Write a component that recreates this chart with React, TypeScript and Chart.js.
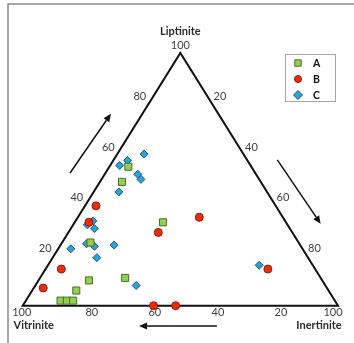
import { useEffect, useRef } from 'react';
import { Chart, registerables } from 'chart.js';
import { drawPoint } from 'chart.js/helpers';

Chart.register(...registerables);

// ---- data: maceral composition (%) ----
const categories = ['A', 'B', 'C'];
const axisNames = ['Vitrinite', 'Inertinite', 'Liptinite'];
const tickValues = [20, 40, 60, 80];

const vitriniteA = [39, 44, 39, 66, 62, 74, 80, 87, 85, 83];
const inertiniteA = [6, 7, 28, 9, 27, 16, 14, 11, 13, 15];
const liptiniteA = [55, 49, 33, 25, 11, 10, 6, 2, 2, 2];

const vitriniteB = [57, 42.5, 26.5, 62.5, 80.5, 90, 58.5, 51.5, 15];
const inertiniteB = [3.5, 28.5, 38.5, 4.5, 5, 3, 41.5, 48.5, 70.5];
const liptiniteB = [39.5, 29, 35, 33, 14.5, 7, 0, 0, 14.5];

const vitriniteC = [31.5, 38, 41.5, 37.5, 37.5, 47, 61, 63.5, 62, 67.5, 65.5, 59, 73.5, 67, 60, 17];
const inertiniteC = [8.5, 4.5, 3, 10.5, 12.5, 8, 5.5, 4.5, 7.5, 8, 11, 17, 4, 14, 32, 67];
const liptiniteC = [60, 57.5, 55.5, 52, 50, 45, 33.5, 32, 30.5, 24.5, 23.5, 24, 22.5, 19, 8, 16];

// ternary -> cartesian (x = I + L/2, y = L)
function toXY(v: number[], i: number[], l: number[]) {
  return v.map((_, k) => ({ x: i[k] + l[k] / 2, y: l[k] }));
}

const FONT = 'Lato, "Open Sans", "Liberation Sans", sans-serif';

function arrow(ctx: CanvasRenderingContext2D, x1: number, y1: number, x2: number, y2: number) {
  const ang = Math.atan2(y2 - y1, x2 - x1);
  const hl = 8, hw = 3.5;
  const bx = x2 - Math.cos(ang) * hl;
  const by = y2 - Math.sin(ang) * hl;
  ctx.beginPath();
  ctx.moveTo(x1, y1);
  ctx.lineTo(bx, by);
  ctx.lineWidth = 1.5;
  ctx.strokeStyle = '#111';
  ctx.stroke();
  ctx.beginPath();
  ctx.moveTo(x2, y2);
  ctx.lineTo(bx + Math.sin(ang) * hw, by - Math.cos(ang) * hw);
  ctx.lineTo(bx - Math.sin(ang) * hw, by + Math.cos(ang) * hw);
  ctx.closePath();
  ctx.fillStyle = '#111';
  ctx.fill();
}

const decorPlugin = {
  id: 'ternaryDecor',
  beforeDatasetsDraw(chart: any) {
    const { ctx } = chart;
    const xs = chart.scales.x;
    const ys = chart.scales.y;
    const P = (xv: number, yv: number): [number, number] => [xs.getPixelForValue(xv), ys.getPixelForValue(yv)];
    const T = (v: number, i: number, l: number) => P(i + l / 2, l);
    ctx.save();

    // frame
    ctx.strokeStyle = '#8c8c8c';
    ctx.lineWidth = 1.5;
    ctx.beginPath();
    ctx.moveTo(8, 343);
    ctx.lineTo(8, 4);
    ctx.lineTo(354, 4);
    ctx.stroke();

    // triangle
    const [vx, vy] = T(100, 0, 0);
    const [ix, iy] = T(0, 100, 0);
    const [lx, ly] = T(0, 0, 100);
    ctx.beginPath();
    ctx.moveTo(vx, vy);
    ctx.lineTo(ix, iy);
    ctx.lineTo(lx, ly);
    ctx.closePath();
    ctx.strokeStyle = '#111';
    ctx.lineWidth = 2;
    ctx.lineJoin = 'miter';
    ctx.stroke();

    // tick labels
    ctx.fillStyle = '#404040';
    ctx.font = `11px ${FONT}`;
    ctx.textAlign = 'center';
    ctx.textBaseline = 'middle';
    tickValues.forEach((t) => {
      const [ax, ay] = T(100 - t, 0, t);
      ctx.fillText(String(t), ax - 9, ay - 7);
      const [bx, by] = T(0, t, 100 - t);
      ctx.fillText(String(t), bx + 8, by - 7);
      const [cx, cy] = T(t, 100 - t, 0);
      ctx.fillText(String(t), cx + 6, cy + 7);
    });
    ctx.fillText('100', vx - 1, vy + 7);
    ctx.fillText('100', ix - 5, iy + 7);
    ctx.fillText('100', lx, ly - 8);

    // axis names
    ctx.fillStyle = '#2b2b2b';
    ctx.font = `bold 11px ${FONT}`;
    ctx.fillText(axisNames[2], lx, ly - 22);
    ctx.fillText(axisNames[0], vx + 11, vy + 20);
    ctx.fillText(axisNames[1], ix - 19, iy + 20);

    // direction arrows
    const a1 = P(15, 52.5), a2 = P(28, 76);
    arrow(ctx, a1[0], a1[1], a2[0], a2[1]);
    const b1 = P(80.75, 57.7), b2 = P(94.5, 32.4);
    arrow(ctx, b1[0], b1[1], b2[0], b2[1]);
    const c1 = P(61.6, -8), c2 = P(36.9, -8);
    arrow(ctx, c1[0], c1[1], c2[0], c2[1]);

    ctx.restore();
  },
  afterDraw(chart: any) {
    const { ctx } = chart;
    ctx.save();
    // legend box
    ctx.strokeStyle = '#a6a6a6';
    ctx.lineWidth = 1;
    ctx.strokeRect(285.5, 54.5, 50, 47);
    chart.data.datasets.forEach((d: any, k: number) => {
      const yy = 63 + k * 16;
      ctx.fillStyle = d.backgroundColor;
      ctx.strokeStyle = d.borderColor;
      ctx.lineWidth = 1;
      const r = d.pointStyle === 'circle' ? 3.5 : 4.5;
      drawPoint(ctx, { pointStyle: d.pointStyle, radius: r, rotation: 0, borderWidth: 1 } as any, 298, yy);
      ctx.fillStyle = '#111';
      ctx.font = `bold 10.5px ${FONT}`;
      ctx.textAlign = 'left';
      ctx.textBaseline = 'middle';
      ctx.fillText(d.label, 313, yy + 0.5);
    });
    ctx.restore();
  },
};

export default function App() {
  const ref = useRef<HTMLCanvasElement>(null);
  useEffect(() => {
    if (!ref.current) return;
    const chart = new Chart(ref.current, {
      type: 'scatter',
      data: {
        datasets: [
          {
            label: categories[0],
            data: toXY(vitriniteA, inertiniteA, liptiniteA),
            pointStyle: 'rect',
            pointRadius: 5,
            backgroundColor: '#92D050',
            borderColor: '#4E6B2A',
            borderWidth: 1,
          },
          {
            label: categories[1],
            data: toXY(vitriniteB, inertiniteB, liptiniteB),
            pointStyle: 'circle',
            pointRadius: 4,
            backgroundColor: '#EE2A0C',
            borderColor: '#8A1F10',
            borderWidth: 1,
          },
          {
            label: categories[2],
            data: toXY(vitriniteC, inertiniteC, liptiniteC),
            pointStyle: 'rectRot',
            pointRadius: 4,
            backgroundColor: '#29A3D9',
            borderColor: '#1F5877',
            borderWidth: 1,
          },
        ],
      },
      options: {
        responsive: false,
        animation: false,
        layout: { padding: 0, autoPadding: false },
        plugins: { legend: { display: false }, tooltip: { enabled: false } },
        scales: {
          x: { type: 'linear', display: false, min: -7.2, max: 105.07 },
          y: { type: 'linear', display: false, min: -14.76, max: 120.97 },
        },
      },
      plugins: [decorPlugin],
    });
    return () => chart.destroy();
  }, []);
  return (
    <div style={{ position: 'absolute', left: 0, top: 0, width: 354, height: 343, background: '#fff' }}>
      <canvas ref={ref} width={354} height={343} style={{ display: 'block' }} />
    </div>
  );
}
